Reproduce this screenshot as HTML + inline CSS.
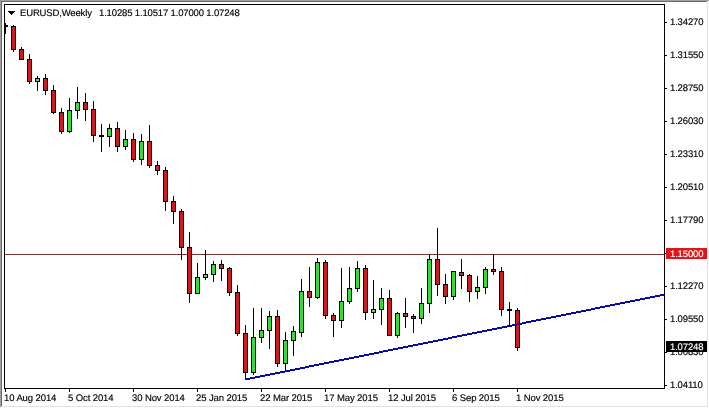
<!DOCTYPE html>
<html><head><meta charset="utf-8"><style>
html,body{margin:0;padding:0;}
body{width:709px;height:408px;overflow:hidden;position:relative;background:#fff;font-family:"Liberation Sans",sans-serif;}
#c{position:absolute;left:0;top:0;}
div,span{text-rendering:geometricPrecision;}
.pl,.dl,.tt,.box span{filter:grayscale(1);-webkit-text-stroke:0.15px;}
.pl{position:absolute;left:670px;font-size:9.5px;line-height:10px;height:10px;color:#000;white-space:nowrap;letter-spacing:-0.15px;}
.dl{position:absolute;top:394px;font-size:9.5px;line-height:10px;color:#000;white-space:nowrap;letter-spacing:-0.1px;}
.box{position:absolute;left:666px;width:41px;height:11px;}
.box span{position:absolute;left:4px;top:2px;font-size:9.5px;line-height:10px;color:#fff;white-space:nowrap;letter-spacing:-0.15px;}
.tt{position:absolute;top:9px;font-size:9.5px;line-height:10px;color:#000;white-space:nowrap;letter-spacing:-0.15px;}
</style></head><body>
<svg id="c" width="709" height="408" shape-rendering="crispEdges">
<rect x="0" y="0" width="709" height="1" fill="#a0a0a0"/>
<rect x="0" y="0" width="1" height="407" fill="#a0a0a0"/>
<rect x="1" y="1" width="707" height="1" fill="#696969"/>
<rect x="1" y="1" width="1" height="406" fill="#696969"/>
<rect x="707" y="1" width="1" height="406" fill="#e3e3e3"/>
<rect x="1" y="406" width="707" height="1" fill="#e3e3e3"/>
<g fill="#000">
<rect x="4" y="4" width="661" height="1"/>
<rect x="4" y="388" width="661" height="1"/>
<rect x="4" y="4" width="1" height="385"/>
<rect x="664" y="4" width="1" height="385"/>
<rect x="665" y="22" width="2" height="1"/>
<rect x="665" y="55" width="2" height="1"/>
<rect x="665" y="88" width="2" height="1"/>
<rect x="665" y="121" width="2" height="1"/>
<rect x="665" y="154" width="2" height="1"/>
<rect x="665" y="187" width="2" height="1"/>
<rect x="665" y="220" width="2" height="1"/>
<rect x="665" y="253" width="2" height="1"/>
<rect x="665" y="286" width="2" height="1"/>
<rect x="665" y="319" width="2" height="1"/>
<rect x="665" y="352" width="2" height="1"/>
<rect x="665" y="385" width="2" height="1"/>
<rect x="5" y="389" width="1" height="3"/>
<rect x="69" y="389" width="1" height="3"/>
<rect x="133" y="389" width="1" height="3"/>
<rect x="197" y="389" width="1" height="3"/>
<rect x="261" y="389" width="1" height="3"/>
<rect x="325" y="389" width="1" height="3"/>
<rect x="389" y="389" width="1" height="3"/>
<rect x="453" y="389" width="1" height="3"/>
<rect x="517" y="389" width="1" height="3"/>
</g>
<svg x="5" y="5" width="659" height="383" overflow="hidden"><g transform="translate(-5,-5)" fill="#000">
<rect x="5" y="254" width="659" height="1" fill="#783232"/>
<rect x="5" y="23" width="1" height="11"/>
<rect x="3" y="25" width="5" height="2"/>
<rect x="13" y="25" width="1" height="27"/>
<rect x="11" y="26" width="5" height="24"/>
<rect x="12" y="27" width="3" height="22" fill="#d21a1e"/>
<rect x="21" y="47" width="1" height="13"/>
<rect x="19" y="49" width="5" height="11"/>
<rect x="20" y="50" width="3" height="9" fill="#d21a1e"/>
<rect x="29" y="54" width="1" height="30"/>
<rect x="27" y="59" width="5" height="23"/>
<rect x="28" y="60" width="3" height="21" fill="#d21a1e"/>
<rect x="37" y="76" width="1" height="15"/>
<rect x="35" y="78" width="5" height="4"/>
<rect x="36" y="79" width="3" height="2" fill="#78cc78"/>
<rect x="45" y="74" width="1" height="21"/>
<rect x="43" y="78" width="5" height="13"/>
<rect x="44" y="79" width="3" height="11" fill="#d21a1e"/>
<rect x="53" y="85" width="1" height="29"/>
<rect x="51" y="90" width="5" height="23"/>
<rect x="52" y="91" width="3" height="21" fill="#d21a1e"/>
<rect x="61" y="108" width="1" height="26"/>
<rect x="59" y="112" width="5" height="20"/>
<rect x="60" y="113" width="3" height="18" fill="#d21a1e"/>
<rect x="69" y="98" width="1" height="35"/>
<rect x="67" y="110" width="5" height="22"/>
<rect x="68" y="111" width="3" height="20" fill="#2ee22e"/>
<rect x="77" y="87" width="1" height="32"/>
<rect x="75" y="102" width="5" height="9"/>
<rect x="76" y="103" width="3" height="7" fill="#2ee22e"/>
<rect x="85" y="93" width="1" height="28"/>
<rect x="83" y="102" width="5" height="8"/>
<rect x="84" y="103" width="3" height="6" fill="#d21a1e"/>
<rect x="93" y="101" width="1" height="41"/>
<rect x="91" y="109" width="5" height="27"/>
<rect x="92" y="110" width="3" height="25" fill="#d21a1e"/>
<rect x="101" y="124" width="1" height="28"/>
<rect x="99" y="135" width="5" height="2"/>
<rect x="109" y="124" width="1" height="23"/>
<rect x="107" y="128" width="5" height="9"/>
<rect x="108" y="129" width="3" height="7" fill="#2ee22e"/>
<rect x="117" y="122" width="1" height="30"/>
<rect x="115" y="128" width="5" height="19"/>
<rect x="116" y="129" width="3" height="17" fill="#d21a1e"/>
<rect x="125" y="130" width="1" height="20"/>
<rect x="123" y="139" width="5" height="8"/>
<rect x="124" y="140" width="3" height="6" fill="#2ee22e"/>
<rect x="133" y="133" width="1" height="29"/>
<rect x="131" y="139" width="5" height="21"/>
<rect x="132" y="140" width="3" height="19" fill="#d21a1e"/>
<rect x="141" y="134" width="1" height="31"/>
<rect x="139" y="141" width="5" height="19"/>
<rect x="140" y="142" width="3" height="17" fill="#2ee22e"/>
<rect x="149" y="125" width="1" height="43"/>
<rect x="147" y="141" width="5" height="25"/>
<rect x="148" y="142" width="3" height="23" fill="#d21a1e"/>
<rect x="157" y="161" width="1" height="14"/>
<rect x="155" y="165" width="5" height="6"/>
<rect x="156" y="166" width="3" height="4" fill="#bf2630"/>
<rect x="165" y="167" width="1" height="44"/>
<rect x="163" y="170" width="5" height="32"/>
<rect x="164" y="171" width="3" height="30" fill="#d21a1e"/>
<rect x="173" y="196" width="1" height="28"/>
<rect x="171" y="201" width="5" height="11"/>
<rect x="172" y="202" width="3" height="9" fill="#d21a1e"/>
<rect x="181" y="209" width="1" height="51"/>
<rect x="179" y="211" width="5" height="37"/>
<rect x="180" y="212" width="3" height="35" fill="#d21a1e"/>
<rect x="189" y="232" width="1" height="71"/>
<rect x="187" y="247" width="5" height="47"/>
<rect x="188" y="248" width="3" height="45" fill="#d21a1e"/>
<rect x="197" y="263" width="1" height="31"/>
<rect x="195" y="277" width="5" height="17"/>
<rect x="196" y="278" width="3" height="15" fill="#2ee22e"/>
<rect x="205" y="250" width="1" height="30"/>
<rect x="203" y="274" width="5" height="4"/>
<rect x="204" y="275" width="3" height="2" fill="#78cc78"/>
<rect x="213" y="261" width="1" height="21"/>
<rect x="211" y="264" width="5" height="11"/>
<rect x="212" y="265" width="3" height="9" fill="#2ee22e"/>
<rect x="221" y="260" width="1" height="21"/>
<rect x="219" y="264" width="5" height="5"/>
<rect x="220" y="265" width="3" height="3" fill="#bf2630"/>
<rect x="229" y="267" width="1" height="29"/>
<rect x="227" y="268" width="5" height="25"/>
<rect x="228" y="269" width="3" height="23" fill="#d21a1e"/>
<rect x="237" y="285" width="1" height="51"/>
<rect x="235" y="292" width="5" height="42"/>
<rect x="236" y="293" width="3" height="40" fill="#d21a1e"/>
<rect x="245" y="325" width="1" height="54"/>
<rect x="243" y="333" width="5" height="40"/>
<rect x="244" y="334" width="3" height="38" fill="#d21a1e"/>
<rect x="253" y="308" width="1" height="67"/>
<rect x="251" y="337" width="5" height="36"/>
<rect x="252" y="338" width="3" height="34" fill="#2ee22e"/>
<rect x="261" y="308" width="1" height="35"/>
<rect x="259" y="330" width="5" height="8"/>
<rect x="260" y="331" width="3" height="6" fill="#2ee22e"/>
<rect x="269" y="311" width="1" height="38"/>
<rect x="267" y="316" width="5" height="15"/>
<rect x="268" y="317" width="3" height="13" fill="#2ee22e"/>
<rect x="277" y="310" width="1" height="57"/>
<rect x="275" y="316" width="5" height="48"/>
<rect x="276" y="317" width="3" height="46" fill="#d21a1e"/>
<rect x="285" y="332" width="1" height="38"/>
<rect x="283" y="340" width="5" height="24"/>
<rect x="284" y="341" width="3" height="22" fill="#2ee22e"/>
<rect x="293" y="326" width="1" height="30"/>
<rect x="291" y="331" width="5" height="10"/>
<rect x="292" y="332" width="3" height="8" fill="#2ee22e"/>
<rect x="301" y="279" width="1" height="58"/>
<rect x="299" y="291" width="5" height="42"/>
<rect x="300" y="292" width="3" height="40" fill="#2ee22e"/>
<rect x="309" y="267" width="1" height="40"/>
<rect x="307" y="291" width="5" height="7"/>
<rect x="308" y="292" width="3" height="5" fill="#bf2630"/>
<rect x="317" y="258" width="1" height="41"/>
<rect x="315" y="262" width="5" height="36"/>
<rect x="316" y="263" width="3" height="34" fill="#2ee22e"/>
<rect x="325" y="260" width="1" height="59"/>
<rect x="323" y="262" width="5" height="54"/>
<rect x="324" y="263" width="3" height="52" fill="#d21a1e"/>
<rect x="333" y="313" width="1" height="24"/>
<rect x="331" y="315" width="5" height="6"/>
<rect x="332" y="316" width="3" height="4" fill="#bf2630"/>
<rect x="341" y="268" width="1" height="60"/>
<rect x="339" y="301" width="5" height="20"/>
<rect x="340" y="302" width="3" height="18" fill="#2ee22e"/>
<rect x="349" y="267" width="1" height="37"/>
<rect x="347" y="288" width="5" height="14"/>
<rect x="348" y="289" width="3" height="12" fill="#2ee22e"/>
<rect x="357" y="261" width="1" height="31"/>
<rect x="355" y="268" width="5" height="21"/>
<rect x="356" y="269" width="3" height="19" fill="#2ee22e"/>
<rect x="365" y="265" width="1" height="55"/>
<rect x="363" y="268" width="5" height="45"/>
<rect x="364" y="269" width="3" height="43" fill="#d21a1e"/>
<rect x="373" y="280" width="1" height="39"/>
<rect x="371" y="309" width="5" height="4"/>
<rect x="372" y="310" width="3" height="2" fill="#78cc78"/>
<rect x="381" y="288" width="1" height="37"/>
<rect x="379" y="298" width="5" height="12"/>
<rect x="380" y="299" width="3" height="10" fill="#2ee22e"/>
<rect x="389" y="290" width="1" height="46"/>
<rect x="387" y="298" width="5" height="38"/>
<rect x="388" y="299" width="3" height="36" fill="#d21a1e"/>
<rect x="397" y="312" width="1" height="26"/>
<rect x="395" y="313" width="5" height="23"/>
<rect x="396" y="314" width="3" height="21" fill="#2ee22e"/>
<rect x="405" y="298" width="1" height="30"/>
<rect x="403" y="313" width="5" height="4"/>
<rect x="404" y="314" width="3" height="2" fill="#a83840"/>
<rect x="413" y="314" width="1" height="19"/>
<rect x="411" y="316" width="5" height="3"/>
<rect x="412" y="317" width="3" height="1" fill="#a83840"/>
<rect x="421" y="288" width="1" height="36"/>
<rect x="419" y="303" width="5" height="16"/>
<rect x="420" y="304" width="3" height="14" fill="#2ee22e"/>
<rect x="429" y="255" width="1" height="58"/>
<rect x="427" y="259" width="5" height="45"/>
<rect x="428" y="260" width="3" height="43" fill="#2ee22e"/>
<rect x="437" y="228" width="1" height="68"/>
<rect x="435" y="259" width="5" height="26"/>
<rect x="436" y="260" width="3" height="24" fill="#d21a1e"/>
<rect x="445" y="274" width="1" height="30"/>
<rect x="443" y="284" width="5" height="13"/>
<rect x="444" y="285" width="3" height="11" fill="#d21a1e"/>
<rect x="453" y="271" width="1" height="29"/>
<rect x="451" y="271" width="5" height="26"/>
<rect x="452" y="272" width="3" height="24" fill="#2ee22e"/>
<rect x="461" y="259" width="1" height="30"/>
<rect x="459" y="272" width="5" height="4"/>
<rect x="460" y="273" width="3" height="2" fill="#a83840"/>
<rect x="469" y="274" width="1" height="28"/>
<rect x="467" y="275" width="5" height="17"/>
<rect x="468" y="276" width="3" height="15" fill="#d21a1e"/>
<rect x="477" y="276" width="1" height="23"/>
<rect x="475" y="287" width="5" height="5"/>
<rect x="476" y="288" width="3" height="3" fill="#4cd64c"/>
<rect x="485" y="267" width="1" height="27"/>
<rect x="483" y="269" width="5" height="19"/>
<rect x="484" y="270" width="3" height="17" fill="#2ee22e"/>
<rect x="493" y="254" width="1" height="21"/>
<rect x="491" y="269" width="5" height="3"/>
<rect x="492" y="270" width="3" height="1" fill="#a83840"/>
<rect x="501" y="267" width="1" height="49"/>
<rect x="499" y="271" width="5" height="39"/>
<rect x="500" y="272" width="3" height="37" fill="#d21a1e"/>
<rect x="509" y="302" width="1" height="24"/>
<rect x="507" y="309" width="5" height="2"/>
<rect x="517" y="308" width="1" height="43"/>
<rect x="515" y="310" width="5" height="38"/>
<rect x="516" y="311" width="3" height="36" fill="#d21a1e"/>
<g fill="#0a0aa0"><rect x="245" y="378" width="5" height="2"/><rect x="250" y="377" width="5" height="2"/><rect x="255" y="376" width="5" height="2"/><rect x="260" y="375" width="5" height="2"/><rect x="265" y="374" width="5" height="2"/><rect x="270" y="373" width="5" height="2"/><rect x="275" y="372" width="5" height="2"/><rect x="280" y="371" width="5" height="2"/><rect x="285" y="370" width="5" height="2"/><rect x="290" y="369" width="5" height="2"/><rect x="295" y="368" width="5" height="2"/><rect x="300" y="367" width="5" height="2"/><rect x="305" y="366" width="4" height="2"/><rect x="309" y="365" width="5" height="2"/><rect x="314" y="364" width="5" height="2"/><rect x="319" y="363" width="5" height="2"/><rect x="324" y="362" width="5" height="2"/><rect x="329" y="361" width="5" height="2"/><rect x="334" y="360" width="5" height="2"/><rect x="339" y="359" width="5" height="2"/><rect x="344" y="358" width="5" height="2"/><rect x="349" y="357" width="5" height="2"/><rect x="354" y="356" width="5" height="2"/><rect x="359" y="355" width="5" height="2"/><rect x="364" y="354" width="5" height="2"/><rect x="369" y="353" width="5" height="2"/><rect x="374" y="352" width="5" height="2"/><rect x="379" y="351" width="4" height="2"/><rect x="383" y="350" width="5" height="2"/><rect x="388" y="349" width="5" height="2"/><rect x="393" y="348" width="5" height="2"/><rect x="398" y="347" width="5" height="2"/><rect x="403" y="346" width="5" height="2"/><rect x="408" y="345" width="5" height="2"/><rect x="413" y="344" width="5" height="2"/><rect x="418" y="343" width="5" height="2"/><rect x="423" y="342" width="5" height="2"/><rect x="428" y="341" width="5" height="2"/><rect x="433" y="340" width="5" height="2"/><rect x="438" y="339" width="5" height="2"/><rect x="443" y="338" width="5" height="2"/><rect x="448" y="337" width="4" height="2"/><rect x="452" y="336" width="5" height="2"/><rect x="457" y="335" width="5" height="2"/><rect x="462" y="334" width="5" height="2"/><rect x="467" y="333" width="5" height="2"/><rect x="472" y="332" width="5" height="2"/><rect x="477" y="331" width="5" height="2"/><rect x="482" y="330" width="5" height="2"/><rect x="487" y="329" width="5" height="2"/><rect x="492" y="328" width="5" height="2"/><rect x="497" y="327" width="5" height="2"/><rect x="502" y="326" width="5" height="2"/><rect x="507" y="325" width="5" height="2"/><rect x="512" y="324" width="5" height="2"/><rect x="517" y="323" width="5" height="2"/><rect x="522" y="322" width="4" height="2"/><rect x="526" y="321" width="5" height="2"/><rect x="531" y="320" width="5" height="2"/><rect x="536" y="319" width="5" height="2"/><rect x="541" y="318" width="5" height="2"/><rect x="546" y="317" width="5" height="2"/><rect x="551" y="316" width="5" height="2"/><rect x="556" y="315" width="5" height="2"/><rect x="561" y="314" width="5" height="2"/><rect x="566" y="313" width="5" height="2"/><rect x="571" y="312" width="5" height="2"/><rect x="576" y="311" width="5" height="2"/><rect x="581" y="310" width="5" height="2"/><rect x="586" y="309" width="5" height="2"/><rect x="591" y="308" width="4" height="2"/><rect x="595" y="307" width="5" height="2"/><rect x="600" y="306" width="5" height="2"/><rect x="605" y="305" width="5" height="2"/><rect x="610" y="304" width="5" height="2"/><rect x="615" y="303" width="5" height="2"/><rect x="620" y="302" width="5" height="2"/><rect x="625" y="301" width="5" height="2"/><rect x="630" y="300" width="5" height="2"/><rect x="635" y="299" width="5" height="2"/><rect x="640" y="298" width="5" height="2"/><rect x="645" y="297" width="5" height="2"/><rect x="650" y="296" width="5" height="2"/><rect x="655" y="295" width="5" height="2"/><rect x="660" y="294" width="4" height="2"/></g>
<rect x="8" y="11" width="7" height="1"/><rect x="9" y="12" width="5" height="1"/><rect x="10" y="13" width="3" height="1"/><rect x="11" y="14" width="1" height="1"/>
</g></svg>
</svg>
<div class="tt" style="left:20px">EURUSD,Weekly</div><div class="tt" style="left:99px">1.10285 1.10517 1.07000 1.07248</div>
<div class="pl" style="top:18px">1.34270</div>
<div class="pl" style="top:51px">1.31550</div>
<div class="pl" style="top:84px">1.28750</div>
<div class="pl" style="top:117px">1.26030</div>
<div class="pl" style="top:150px">1.23310</div>
<div class="pl" style="top:183px">1.20510</div>
<div class="pl" style="top:216px">1.17790</div>
<div class="pl" style="top:249px">1.15070</div>
<div class="pl" style="top:282px">1.12270</div>
<div class="pl" style="top:315px">1.09550</div>
<div class="pl" style="top:348px">1.06830</div>
<div class="pl" style="top:381px">1.04110</div>
<div class="dl" style="left:4px">10 Aug 2014</div>
<div class="dl" style="left:68px">5 Oct 2014</div>
<div class="dl" style="left:132px">30 Nov 2014</div>
<div class="dl" style="left:196px">25 Jan 2015</div>
<div class="dl" style="left:260px">22 Mar 2015</div>
<div class="dl" style="left:324px">17 May 2015</div>
<div class="dl" style="left:388px">12 Jul 2015</div>
<div class="dl" style="left:452px">6 Sep 2015</div>
<div class="dl" style="left:516px">1 Nov 2015</div>
<div class="box" style="top:248px;background:#e0141a"><span>1.15000</span></div>
<div class="box" style="top:341px;background:#000"><span>1.07248</span></div>
</body></html>
